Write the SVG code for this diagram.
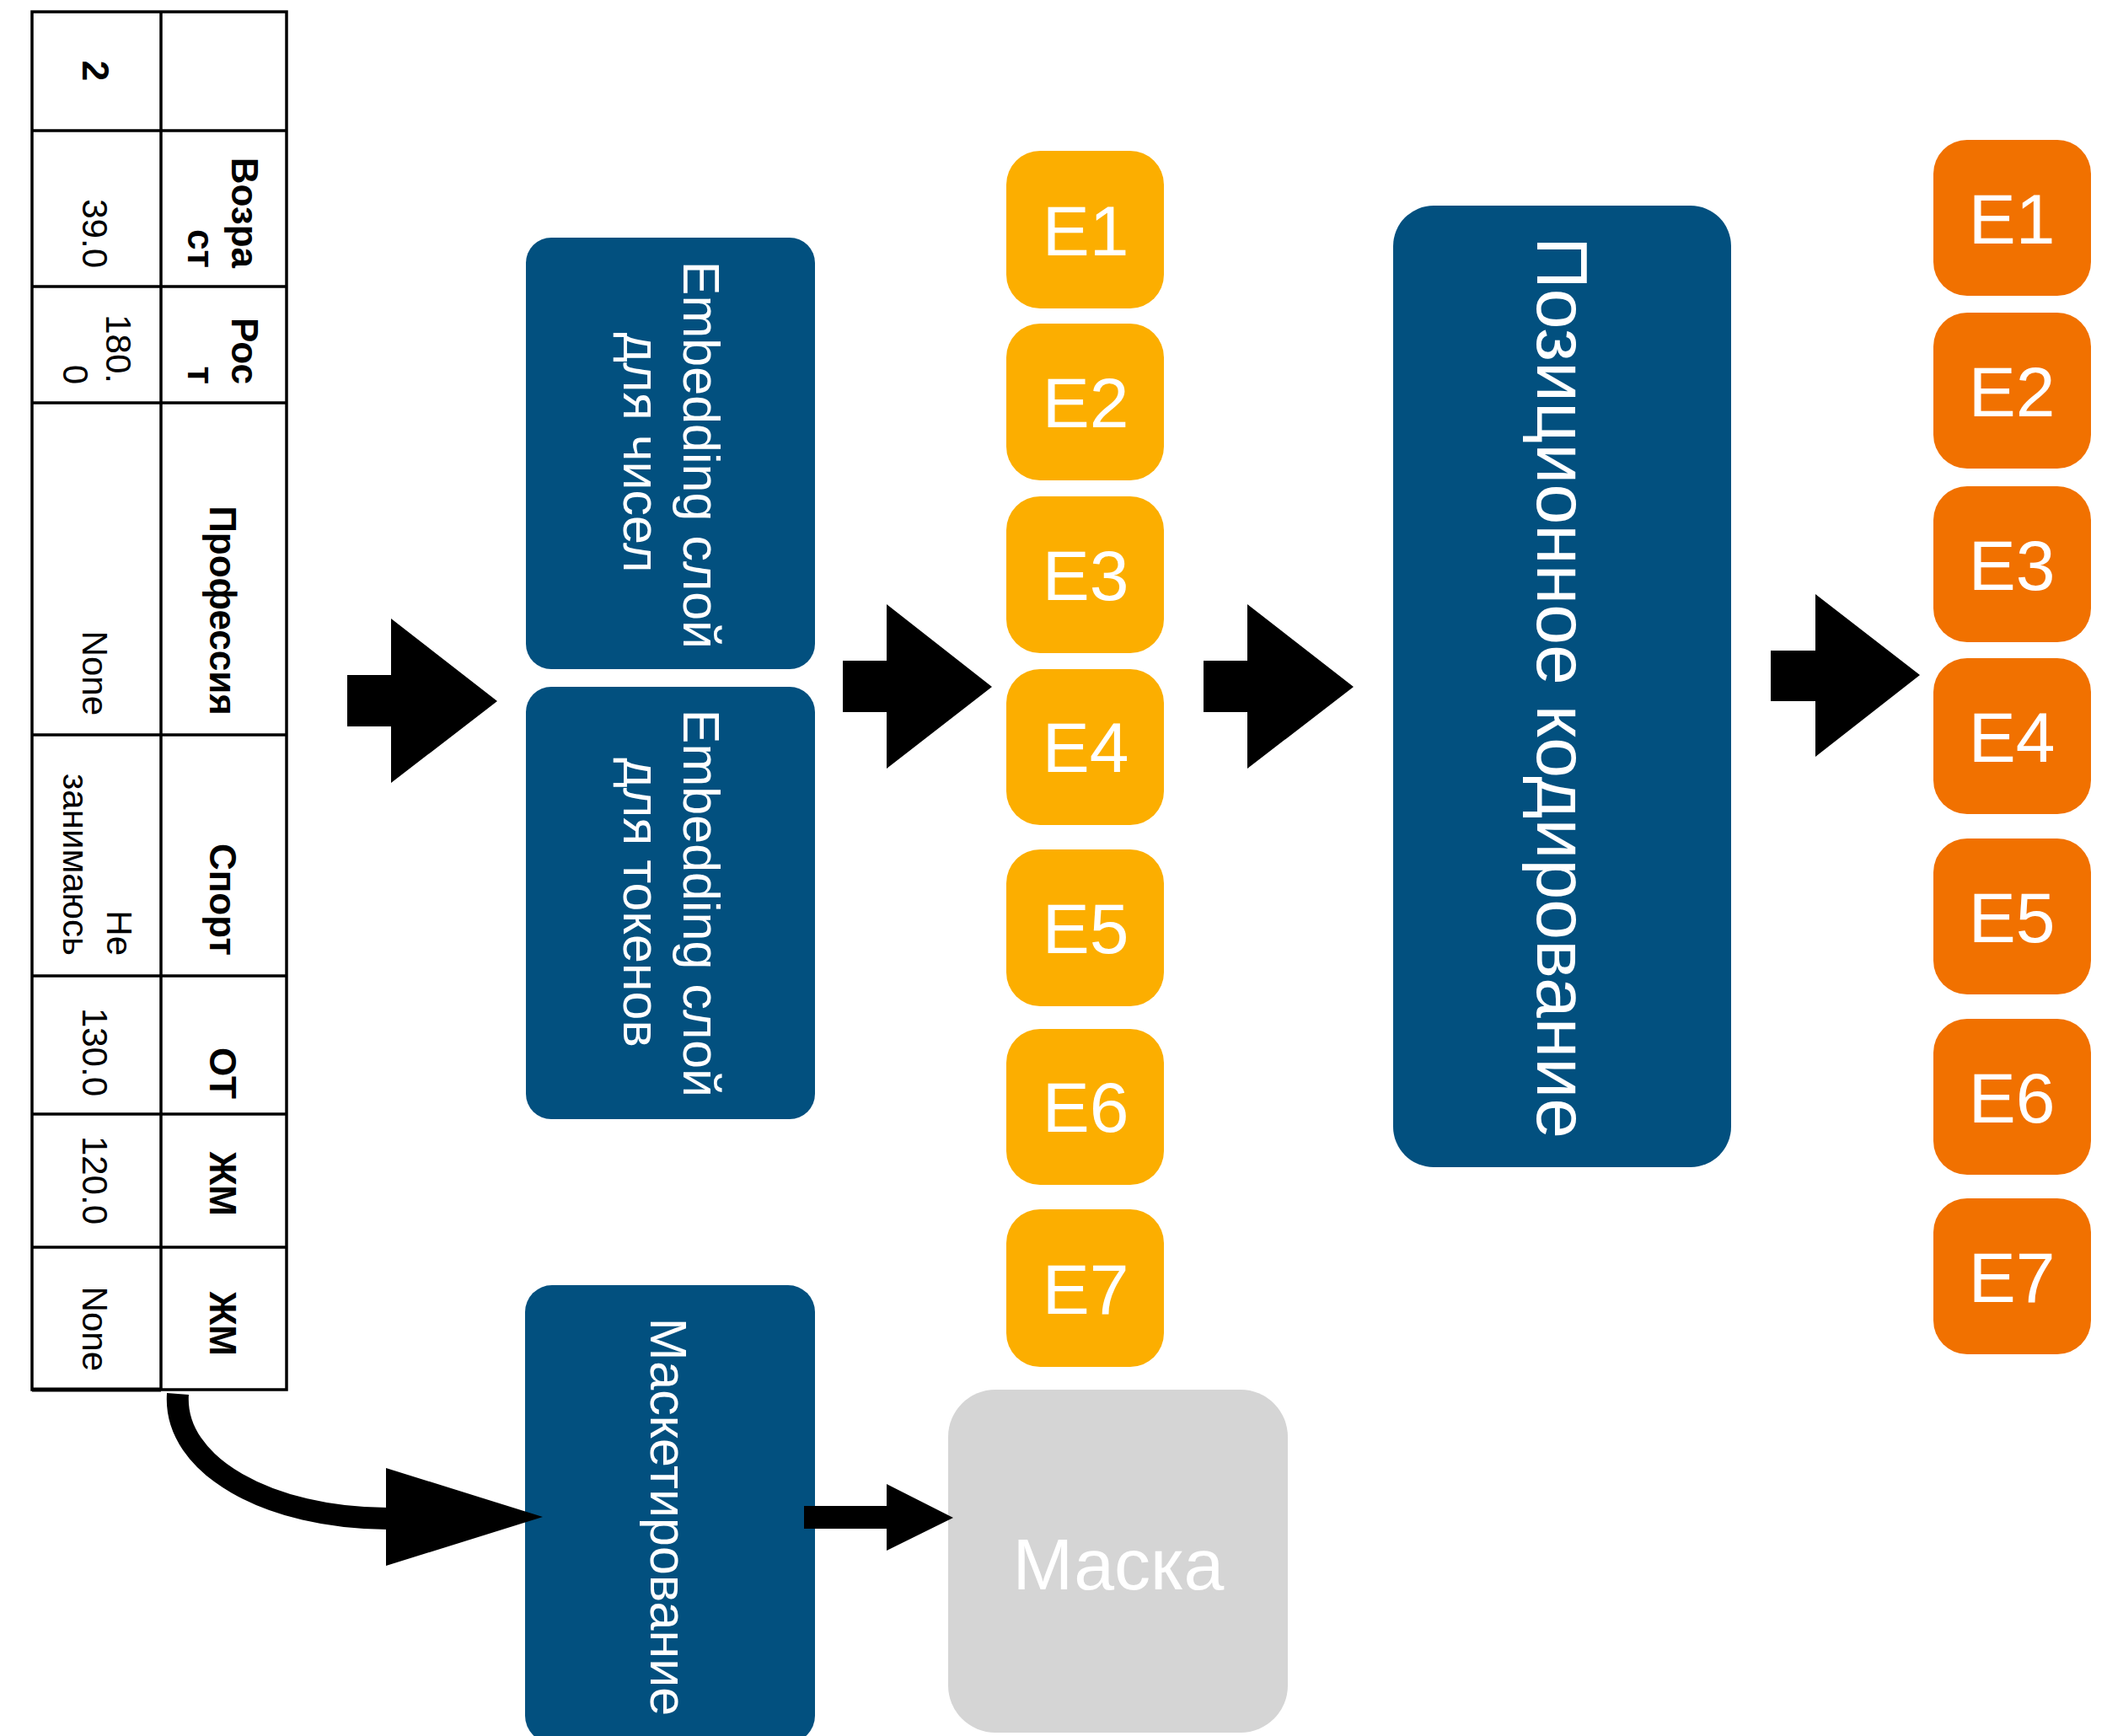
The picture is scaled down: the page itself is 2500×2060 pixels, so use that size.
<svg xmlns="http://www.w3.org/2000/svg" width="2500" height="2060" viewBox="0 0 2500 2060">
<defs>
<style>
.tbl{fill:#fff;stroke:#000;stroke-width:3.5}
.ln{stroke:#000;stroke-width:3.5}
.th{font-family:"Liberation Sans",Arial,sans-serif;font-weight:bold;font-size:44px;fill:#000;text-anchor:end}
.td{font-family:"Liberation Sans",Arial,sans-serif;font-size:42px;fill:#000;text-anchor:end}
.navy{fill:#02507F}
.yel{fill:#FCAE00}
.org{fill:#F17100}
.gry{fill:#D5D5D5}
.wt{font-family:"Liberation Sans",Arial,sans-serif;fill:#fff;text-anchor:middle}
.e{font-size:84px}
.arr{fill:#000}
</style>
</defs>
<rect width="2500" height="2060" fill="#fff"/>

<g id="table">
<rect class="tbl" x="38" y="14" width="302" height="1635"/>
<line class="ln" x1="191" y1="14" x2="191" y2="1649"/>
<line class="ln" x1="38" y1="155" x2="340" y2="155"/>
<line class="ln" x1="38" y1="340" x2="340" y2="340"/>
<line class="ln" x1="38" y1="478" x2="340" y2="478"/>
<line class="ln" x1="38" y1="872" x2="340" y2="872"/>
<line class="ln" x1="38" y1="1158" x2="340" y2="1158"/>
<line class="ln" x1="38" y1="1322" x2="340" y2="1322"/>
<line class="ln" x1="38" y1="1480" x2="340" y2="1480"/>
<line x1="38" y1="1649" x2="191" y2="1649" stroke="#000" stroke-width="5"/>
<text class="th" style="text-anchor:middle" transform="translate(98,84) rotate(90)">2</text>
<text class="th" transform="translate(275,318) rotate(90)">Возра</text>
<text class="th" transform="translate(223,318) rotate(90)">ст</text>
<text class="td" transform="translate(98,318) rotate(90)">39.0</text>
<text class="th" transform="translate(275,456) rotate(90)">Рос</text>
<text class="th" transform="translate(223,456) rotate(90)">т</text>
<text class="td" transform="translate(126,455) rotate(90)">180.</text>
<text class="td" transform="translate(75,456) rotate(90)">0</text>
<text class="th" transform="translate(249,849) rotate(90)">Профессия</text>
<text class="td" transform="translate(98,849) rotate(90)">None</text>
<text class="th" transform="translate(249,1134) rotate(90)">Спорт</text>
<text class="td" transform="translate(127,1134) rotate(90)">Не</text>
<text class="td" transform="translate(75,1134) rotate(90)">занимаюсь</text>
<text class="th" transform="translate(249,1304) rotate(90)">ОТ</text>
<text class="td" transform="translate(98,1301) rotate(90)">130.0</text>
<text class="th" transform="translate(249,1443) rotate(90)">ЖМ</text>
<text class="td" transform="translate(98,1453) rotate(90)">120.0</text>
<text class="th" transform="translate(249,1609) rotate(90)">ЖМ</text>
<text class="td" transform="translate(98,1627) rotate(90)">None</text>
</g>

<g id="emb-num">
<rect class="navy" x="624" y="282" width="343" height="512" rx="30"/>
<text class="wt" font-size="61" transform="translate(811,540) rotate(90)">Embedding слой</text>
<text class="wt" font-size="61" transform="translate(740,537) rotate(90)">для чисел</text>
</g>
<g id="emb-tok">
<rect class="navy" x="624" y="815" width="343" height="513" rx="30"/>
<text class="wt" font-size="61" transform="translate(811,1072) rotate(90)">Embedding слой</text>
<text class="wt" font-size="61" transform="translate(740,1071) rotate(90)">для токенов</text>
</g>

<g id="masking">
<rect class="navy" x="623" y="1525" width="344" height="543" rx="32"/>
<text class="wt" font-size="61" transform="translate(772,1800) rotate(90)">Маскетирование</text>
</g>

<g id="mask">
<rect class="gry" x="1125" y="1649" width="403" height="407" rx="56"/>
<text class="wt" font-size="86" x="1327" y="1886">Маска</text>
</g>

<g id="pos-enc">
<rect class="navy" x="1653" y="244" width="401" height="1141" rx="48"/>
<text class="wt" font-size="86" transform="translate(1824,816) rotate(90)">Позиционное кодирование</text>
</g>

<g id="emb-col">
<g id="y1"><rect class="yel" x="1194" y="179" width="187" height="187" rx="40"/><text class="wt e" x="1288" y="303">E1</text></g>
<g id="y2"><rect class="yel" x="1194" y="384" width="187" height="186" rx="40"/><text class="wt e" x="1288" y="507">E2</text></g>
<g id="y3"><rect class="yel" x="1194" y="589" width="187" height="186" rx="40"/><text class="wt e" x="1288" y="712">E3</text></g>
<g id="y4"><rect class="yel" x="1194" y="794" width="187" height="185" rx="40"/><text class="wt e" x="1288" y="916">E4</text></g>
<g id="y5"><rect class="yel" x="1194" y="1008" width="187" height="186" rx="40"/><text class="wt e" x="1288" y="1131">E5</text></g>
<g id="y6"><rect class="yel" x="1194" y="1221" width="187" height="185" rx="40"/><text class="wt e" x="1288" y="1343">E6</text></g>
<g id="y7"><rect class="yel" x="1194" y="1435" width="187" height="187" rx="40"/><text class="wt e" x="1288" y="1559">E7</text></g>
</g>

<g id="out-col">
<g id="o1"><rect class="org" x="2294" y="166" width="187" height="185" rx="40"/><text class="wt e" x="2387" y="289">E1</text></g>
<g id="o2"><rect class="org" x="2294" y="371" width="187" height="185" rx="40"/><text class="wt e" x="2387" y="494">E2</text></g>
<g id="o3"><rect class="org" x="2294" y="577" width="187" height="185" rx="40"/><text class="wt e" x="2387" y="700">E3</text></g>
<g id="o4"><rect class="org" x="2294" y="781" width="187" height="185" rx="40"/><text class="wt e" x="2387" y="904">E4</text></g>
<g id="o5"><rect class="org" x="2294" y="995" width="187" height="185" rx="40"/><text class="wt e" x="2387" y="1118">E5</text></g>
<g id="o6"><rect class="org" x="2294" y="1209" width="187" height="185" rx="40"/><text class="wt e" x="2387" y="1332">E6</text></g>
<g id="o7"><rect class="org" x="2294" y="1422" width="187" height="185" rx="40"/><text class="wt e" x="2387" y="1545">E7</text></g>
</g>

<g id="connectors">
<polygon class="arr" points="412,801 464,801 464,734 590,832 464,929 464,862 412,862"/>
<polygon class="arr" points="1000,784 1052,784 1052,717 1177,815 1052,912 1052,845 1000,845"/>
<polygon class="arr" points="1428,784 1480,784 1480,717 1606,815 1480,912 1480,845 1428,845"/>
<polygon class="arr" points="2101,772 2154,772 2154,705 2278,801 2154,898 2154,832 2101,832"/>
<path d="M211,1654 C205,1740 321,1802 460,1802" fill="none" stroke="#000" stroke-width="26"/>
<polygon class="arr" points="458,1742 644,1800 458,1858"/>
<polygon class="arr" points="954,1787 1052,1787 1052,1761 1131,1801 1052,1840 1052,1814 954,1814"/>
</g>
</svg>
